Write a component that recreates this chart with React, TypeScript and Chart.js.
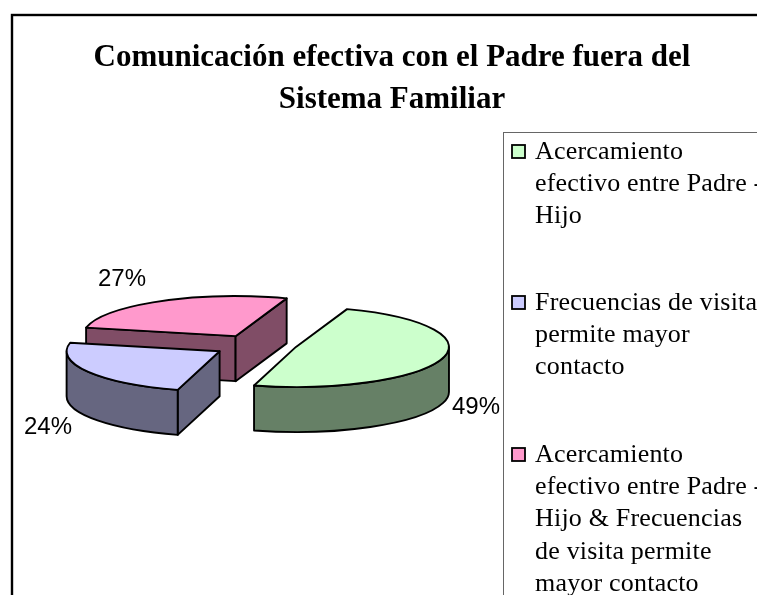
import React, { useEffect, useRef } from "react";
import { Chart, registerables } from "chart.js";

Chart.register(...registerables);

const categories = [
  "Acercamiento efectivo entre Padre - Hijo",
  "Frecuencias de visita permite mayor contacto",
  "Acercamiento efectivo entre Padre - Hijo & Frecuencias de visita permite mayor contacto",
];
const legendLines = [
  ["Acercamiento", "efectivo entre Padre -", "Hijo"],
  ["Frecuencias de visita", "permite mayor", "contacto"],
  ["Acercamiento", "efectivo entre Padre -", "Hijo & Frecuencias", "de visita permite", "mayor contacto"],
];
const values = [49, 24, 27];
const titleLines = ["Comunicación efectiva con el Padre fuera del", "Sistema Familiar"];
const topColors = ["#CCFFCC", "#CCCCFF", "#FF99CC"];
const wallColors = ["#668066", "#666680", "#804D66"];

// layout constants
const CENTER = { x: 255, y: 345.5 };
const RADIUS = 153;
const TILT = 0.262;
const DEPTH = 45;
const EXPLODE = 43;
const NUDGE = [
  { x: 0, y: -2 },
  { x: 1.5, y: 0 },
  { x: 1.5, y: 0.5 },
];
const LABEL_POS = [
  { x: 476, y: 407 },
  { x: 48, y: 427 },
  { x: 122, y: 279 },
];
const LEGEND_Y = [152, 303, 455];
const LINE_H = 32.3;

const pie3d = {
  id: "pie3d",
  beforeDatasetsDraw(chart: any) {
    const ctx = chart.ctx;
    const arcs = chart.getDatasetMeta(0).data;
    // back to front
    [2, 1, 0].forEach((i) => {
      const a = arcs[i];
      const { startAngle: s, endAngle: e } = a.getProps(["startAngle", "endAngle"], true);
      const mid = (s + e) / 2;
      const cx = CENTER.x + NUDGE[i].x + Math.cos(mid) * EXPLODE;
      const cy = CENTER.y + NUDGE[i].y + Math.sin(mid) * EXPLODE * TILT;
      const px = (t: number) => cx + Math.cos(t) * RADIUS;
      const py = (t: number) => cy + Math.sin(t) * RADIUS * TILT;
      ctx.save();
      ctx.lineWidth = 1.9;
      ctx.strokeStyle = "#000";
      ctx.lineJoin = "round";
      ctx.fillStyle = wallColors[i];
      const radial = (t: number) => {
        ctx.beginPath();
        ctx.moveTo(cx, cy);
        ctx.lineTo(px(t), py(t));
        ctx.lineTo(px(t), py(t) + DEPTH);
        ctx.lineTo(cx, cy + DEPTH);
        ctx.closePath();
        ctx.fill();
        ctx.stroke();
      };
      if (Math.sin(s - Math.PI / 2) > 0) radial(s);
      if (Math.cos(e) > 0) radial(e);
      // curved outer wall: the front part of the rim
      for (let k = 0; k <= 1; k++) {
        const lo = Math.max(s, k * 2 * Math.PI);
        const hi = Math.min(e, k * 2 * Math.PI + Math.PI);
        if (hi > lo) {
          ctx.beginPath();
          ctx.ellipse(cx, cy, RADIUS, RADIUS * TILT, 0, lo, hi);
          ctx.lineTo(px(hi), py(hi) + DEPTH);
          ctx.ellipse(cx, cy + DEPTH, RADIUS, RADIUS * TILT, 0, hi, lo, true);
          ctx.closePath();
          ctx.fill();
          ctx.stroke();
        }
      }
      // top face: the library's own arc, flattened
      ctx.save();
      ctx.translate(cx, cy);
      ctx.scale(1, TILT);
      ctx.translate(-a.x, -a.y);
      a.draw(ctx);
      ctx.restore();
      ctx.beginPath();
      ctx.moveTo(cx, cy);
      ctx.ellipse(cx, cy, RADIUS, RADIUS * TILT, 0, s, e);
      ctx.closePath();
      ctx.stroke();
      ctx.restore();
    });
    return false;
  },
  afterDraw(chart: any) {
    const ctx = chart.ctx;
    ctx.save();
    // percentage labels
    ctx.fillStyle = "#000";
    ctx.font = '24px "Liberation Sans"';
    ctx.textAlign = "center";
    ctx.textBaseline = "middle";
    values.forEach((v, i) => ctx.fillText(`${v}%`, LABEL_POS[i].x, LABEL_POS[i].y));
    // chart frame and legend box
    ctx.strokeStyle = "#000";
    ctx.lineWidth = 2.4;
    ctx.strokeRect(12, 15, 800, 700);
    ctx.strokeStyle = "#666";
    ctx.lineWidth = 1;
    ctx.strokeRect(503.5, 132.5, 400, 600);
    // legend
    ctx.textAlign = "left";
    ctx.font = '26px "Liberation Serif"';
    ctx.letterSpacing = "0.2px";
    categories.forEach((_, i) => {
      const y = LEGEND_Y[i];
      ctx.fillStyle = topColors[i];
      ctx.fillRect(512, y - 7, 13, 13);
      ctx.strokeStyle = "#000";
      ctx.lineWidth = 1.8;
      ctx.strokeRect(512, y - 7, 13, 13);
      ctx.fillStyle = "#000";
      legendLines[i].forEach((line, j) => ctx.fillText(line, 535, y + j * LINE_H));
    });
    ctx.restore();
  },
};

export default function App() {
  const ref = useRef<HTMLCanvasElement>(null);
  useEffect(() => {
    document.body.style.margin = "0";
    document.body.style.background = "#fff";
    const chart = new Chart(ref.current!, {
      type: "pie",
      data: {
        labels: categories,
        datasets: [{ data: values, backgroundColor: topColors, borderWidth: 0, radius: RADIUS }],
      },
      options: {
        animation: false,
        responsive: false,
        rotation: 19.5,
        layout: { padding: { left: 27, right: 0, top: 0, bottom: 0 } },
        plugins: {
          legend: { display: false },
          tooltip: { enabled: false },
          title: {
            display: true,
            text: titleLines,
            color: "#000",
            font: { family: '"Liberation Serif"', size: 31, weight: "bold", lineHeight: 1.35 },
            padding: { top: 37, bottom: 0 },
          },
        },
      },
      plugins: [pie3d],
    } as any);
    return () => chart.destroy();
  }, []);
  return <canvas ref={ref} width={757} height={595} style={{ display: "block" }} />;
}
